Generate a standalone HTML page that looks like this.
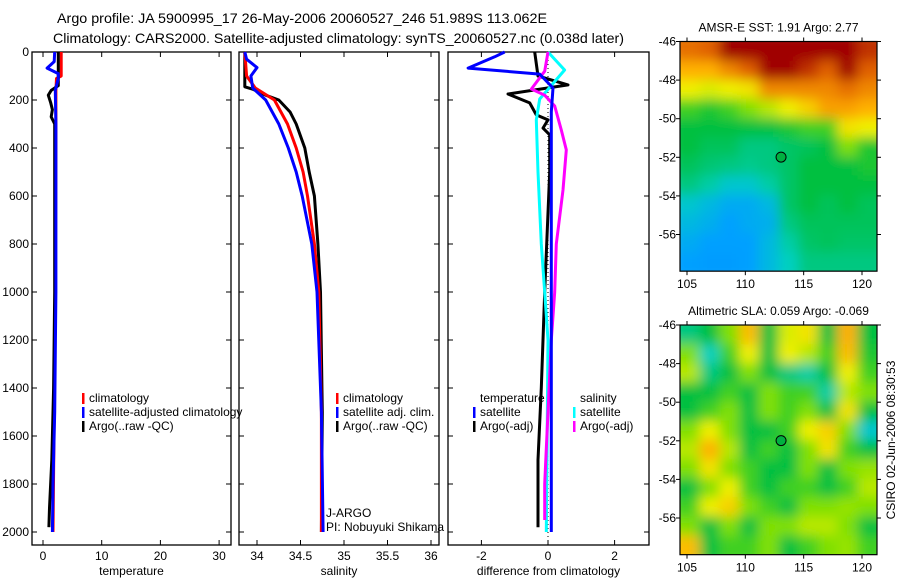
<!DOCTYPE html>
<html><head><meta charset="utf-8"><style>
body{margin:0;background:#fff;}
svg{display:block;font-family:"Liberation Sans",sans-serif;font-size:12px;}
</style></head><body>
<svg id="fig" width="900" height="580" viewBox="0 0 900 580">
<text x="57" y="23" font-size="14" textLength="490" lengthAdjust="spacingAndGlyphs">Argo profile: JA 5900995_17 26-May-2006 20060527_246 51.989S 113.062E</text>
<text x="53" y="43" font-size="14" textLength="571" lengthAdjust="spacingAndGlyphs">Climatology: CARS2000. Satellite-adjusted climatology: synTS_20060527.nc (0.038d later)</text>
</svg>
<script>
// ---------- data ----------
const depthTicks=[0,200,400,600,800,1000,1200,1400,1600,1800,2000];
const tempTicks=[0,10,20,30];
const salTicks=[34,34.5,35,35.5,36];
const salTickLabels=["34","34.5","35","35.5","36"];
const diffTicks=[-2,0,2];
// temperature profiles [depth, value]
const tempClimDepth=[0,100,110,160,400,1000,1500,2000];
const tempClim=[3.1,3.1,2.3,2.2,2.2,2.1,1.9,1.7];
const tempSatDepth=[0,40,67,90,110,160,300,1000,1500,1800,2000];
const tempSat=[2.0,1.9,0.7,2.6,2.6,2.1,2.2,2.2,2.0,1.7,1.6];
const tempArgoDepth=[0,140,160,180,210,240,270,300,1000,1400,1700,1900,1980];
const tempArgo=[2.6,2.6,1.4,0.9,1.3,1.6,1.4,2.0,2.0,1.8,1.5,1.1,1.0];
// salinity profiles
const salClimDepth=[0,100,150,200,300,400,500,600,800,1000,1500,2000];
const salClim=[33.86,33.88,33.98,34.2,34.35,34.45,34.53,34.58,34.66,34.71,34.74,34.74];
const salSatDepth=[0,30,65,100,150,200,300,400,500,600,800,1000,1500,2000];
const salSat=[33.86,33.88,34.0,33.93,33.95,34.1,34.25,34.36,34.45,34.52,34.63,34.69,34.74,34.76];
const salArgoDepth=[0,145,155,180,200,250,300,400,500,600,800,1000,1500,2000];
const salArgo=[33.86,33.86,33.95,34.1,34.25,34.38,34.45,34.55,34.6,34.66,34.7,34.73,34.75,34.74];
// differences from climatology
const dTSatDepth=[0,20,67,92,150,250,1000,2000];
const dTSat=[-1.3,-1.6,-2.4,-0.25,0.15,0.1,0.1,0.1];
const dTArgoDepth=[0,100,137,175,212,262,283,317,345,500,1000,1400,1700,1980];
const dTArgo=[-0.4,-0.3,0.6,-1.2,-0.55,-0.35,0,-0.15,0.05,0.05,-0.1,-0.2,-0.3,-0.3];
const dSSatDepth=[0,75,196,283,500,800,1000,1200,2000];
const dSSat=[0,0.5,-0.25,-0.35,-0.3,-0.2,-0.1,0,-0.05];
const dSArgoDepth=[0,80,154,180,225,325,408,575,800,1000,1200,1500,1800,1950];
const dSArgo=[0,-0.1,-0.5,-0.1,0.2,0.4,0.55,0.45,0.25,0.2,0.1,0,-0.1,-0.1];
// maps (rows lat -46..-58, cols lon 104.8..121.3), value 0..1 colour index
const sstGrid=[
[.88,.9,1,1,1,1,1,1,1,.95],
[.8,.8,.85,.9,1,1,.95,.9,1,.9],
[.7,.68,.7,.72,.85,.85,.85,.85,.88,.85],
[.55,.52,.55,.6,.65,.7,.75,.82,.82,.8],
[.5,.5,.5,.5,.5,.52,.55,.55,.72,.7],
[.5,.48,.48,.45,.45,.47,.48,.5,.6,.52],
[.48,.46,.45,.44,.45,.47,.5,.5,.5,.52],
[.45,.42,.38,.38,.42,.47,.5,.5,.5,.5],
[.38,.35,.32,.32,.35,.47,.5,.48,.5,.48],
[.35,.33,.3,.32,.33,.45,.48,.48,.48,.48],
[.32,.3,.3,.3,.35,.42,.47,.48,.47,.47],
[.3,.28,.28,.3,.35,.4,.45,.45,.45,.45]];
const slaGrid=[
[.45,.5,.6,.78,.5,.68,.72,.5,.8,.5],
[.6,.4,.55,.7,.5,.7,.65,.55,.78,.52],
[.65,.45,.5,.6,.5,.45,.42,.5,.7,.55],
[.5,.5,.55,.5,.6,.55,.55,.42,.65,.6],
[.5,.55,.6,.5,.6,.55,.6,.5,.72,.5],
[.6,.7,.6,.5,.5,.55,.7,.75,.6,.38],
[.65,.8,.65,.5,.55,.5,.6,.72,.55,.5],
[.6,.72,.6,.55,.5,.5,.6,.5,.6,.62],
[.5,.6,.7,.55,.5,.55,.55,.5,.55,.65],
[.55,.7,.75,.6,.55,.5,.6,.6,.62,.6],
[.6,.5,.6,.5,.6,.6,.65,.65,.6,.5],
[.78,.5,.55,.55,.6,.5,.55,.6,.62,.55]];
const latTicks=[-46,-48,-50,-52,-54,-56];
const lonTicks=[105,110,115,120];
const argoLon=113.062, argoLat=-51.989;

// ---------- helpers ----------
const svg=document.getElementById('fig');
const NS='http://www.w3.org/2000/svg';
function mk(tag,attrs,parent){const e=document.createElementNS(NS,tag);for(const k in attrs)e.setAttribute(k,attrs[k]);(parent||svg).appendChild(e);return e;}
const yD=d=>52+d*0.24;
const xT=t=>43+t*5.87;
const xS=s=>257+(s-34)*87;
const xDf=v=>548+v*33.3;

function panel(name,x0,x1,xf,ticks,labels,xlabel,showY){
  const g=mk('g',{});
  
  
  mk('rect',{x:x0,y:52,width:x1-x0,height:493,fill:'none',stroke:'#000','stroke-width':1.3},g);
  ticks.forEach((t,i)=>{const x=xf(t);
    mk('line',{x1:x,x2:x,y1:52,y2:57,stroke:'#000'},g);
    mk('line',{x1:x,x2:x,y1:540,y2:545,stroke:'#000'},g);
    const tx=mk('text',{x:x,y:560,'text-anchor':'middle'},g);tx.textContent=labels[i];
    
    
  });
  depthTicks.forEach(d=>{const y=yD(d);
    mk('line',{x1:x0,x2:x0+5,y1:y,y2:y,stroke:'#000'},g);
    mk('line',{x1:x1-5,x2:x1,y1:y,y2:y,stroke:'#000'},g);
    if(showY){const t=mk('text',{x:x0-3,y:y+4,'text-anchor':'end'},g);t.textContent=d;
      
      }
  });
  const xl=mk('text',{x:(x0+x1)/2,y:575,'text-anchor':'middle'},g);xl.textContent=xlabel;
  
  
  return g;
}
function line(depths,vals,xf,color,name,w){
  const pts=depths.map((d,i)=>xf(vals[i]).toFixed(1)+','+yD(d).toFixed(1)).join(' ');
  const p=mk('polyline',{points:pts,fill:'none',stroke:color,'stroke-width':w||3,'stroke-linejoin':'round'});
  
  
}
function legend(x,y,items,name,clipW){
  const g=mk('g',{});
  
  
  items.forEach((it,i)=>{const yy=y+i*14;
    if(it[0])mk('rect',{x:x,y:yy-9,width:2.5,height:11,fill:it[0]},g);
    const t=mk('text',{x:x+7,y:yy},g);t.textContent=it[1];});
}

// ---------- panels ----------
panel('temperature-panel',32,231,xT,tempTicks,tempTicks.map(String),'temperature',true);
line(tempClimDepth,tempClim,xT,'#f00','temp-climatology-line');
line(tempArgoDepth,tempArgo,xT,'#000','temp-argo-line');
line(tempSatDepth,tempSat,xT,'#00f','temp-satellite-line');
legend(82,402,[['#f00','climatology'],['#00f','satellite-adjusted climatology'],['#000','Argo(..raw -QC)']],'temp-legend');

panel('salinity-panel',239,439,xS,salTicks,salTickLabels,'salinity',false);
line(salArgoDepth,salArgo,xS,'#000','sal-argo-line');
line(salClimDepth,salClim,xS,'#f00','sal-climatology-line');
line(salSatDepth,salSat,xS,'#00f','sal-satellite-line');
legend(336,402,[['#f00','climatology'],['#00f','satellite adj. clim.'],['#000','Argo(..raw -QC)']],'sal-legend');
const pi=mk('text',{x:326,y:517});pi.textContent='J-ARGO';


const pi2=mk('text',{x:326,y:531});pi2.textContent='PI: Nobuyuki Shikama';



panel('difference-panel',448,649,xDf,diffTicks,diffTicks.map(String),'difference from climatology',false);
const z=mk('line',{x1:xDf(0),x2:xDf(0),y1:52,y2:545,stroke:'#000','stroke-dasharray':'1,3'});


line(dTArgoDepth,dTArgo,xDf,'#000','diff-temp-argo-line');
line(dSSatDepth,dSSat,xDf,'#0ff','diff-sal-satellite-line');
line(dSArgoDepth,dSArgo,xDf,'#f0f','diff-sal-argo-line');
line(dTSatDepth,dTSat,xDf,'#00f','diff-temp-satellite-line');
legend(473,402,[[null,'temperature'],['#00f','satellite'],['#000','Argo(-adj)']],'diff-temp-legend');
legend(573,402,[[null,'salinity'],['#0ff','satellite'],['#f0f','Argo(-adj)']],'diff-sal-legend');

// ---------- maps ----------
const stops=[[0,[0,96,255]],[.3,[0,160,255]],[.4,[0,208,192]],[.5,[0,192,64]],[.6,[128,224,0]],[.7,[240,240,0]],[.8,[255,176,0]],[.9,[224,96,0]],[1,[160,0,0]]];
function cmap(v){for(let i=1;i<stops.length;i++){if(v<=stops[i][0]){const a=stops[i-1],b=stops[i],f=(v-a[0])/(b[0]-a[0]);
  return 'rgb('+a[1].map((c,k)=>Math.round(c+(b[1][k]-c)*f)).join(',')+')';}}return 'rgb(160,0,0)';}
function map(name,top,grid,title,blurId){
  const x0=680,x1=877,h=19.3*11.9;
  const lx=lon=>687+(lon-105)*(175/15);
  const ly=lat=>top+(-46-lat)*19.3;
  const g=mk('g',{});
  
  
  const defs=mk('defs',{},g);
  const cp=mk('clipPath',{id:'c'+blurId},defs);mk('rect',{x:x0,y:top,width:x1-x0,height:h},cp);
  const f=mk('filter',{id:blurId,x:'-5%',y:'-5%',width:'110%',height:'110%'},defs);mk('feGaussianBlur',{stdDeviation:6},f);
  const cells=mk('g',{'clip-path':'url(#c'+blurId+')'},g);
  const inner=mk('g',{filter:'url(#'+blurId+')'},cells);
  const cw=(x1-x0)/grid[0].length,ch=h/grid.length;
  grid.forEach((row,r)=>row.forEach((v,c)=>{
    const cell=mk('rect',{x:x0+c*cw-(c==0?10:0),y:top+r*ch-(r==0?10:0),width:cw+1+(c==0||c==row.length-1?10:0),height:ch+1+(r==0||r==grid.length-1?10:0),fill:cmap(v)},inner);
    
    
  }));
  mk('rect',{x:x0,y:top,width:x1-x0,height:h,fill:'none',stroke:'#000','stroke-width':1.2},g);
  latTicks.forEach(l=>{const y=ly(l);mk('line',{x1:x0-4,x2:x0,y1:y,y2:y,stroke:'#000'},g);mk('line',{x1:x1,x2:x1+4,y1:y,y2:y,stroke:'#000'},g);
    const t=mk('text',{x:x0-4,y:y+4,'text-anchor':'end'},g);t.textContent=l;});
  lonTicks.forEach(l=>{const x=lx(l);mk('line',{x1:x,x2:x,y1:top-4,y2:top,stroke:'#000'},g);mk('line',{x1:x,x2:x,y1:top+h,y2:top+h+4,stroke:'#000'},g);
    const t=mk('text',{x:x,y:top+h+17,'text-anchor':'middle'},g);t.textContent=l;});
  const tt=mk('text',{x:(x0+x1)/2,y:top-10,'text-anchor':'middle'},g);tt.textContent=title;
  
  
  const c=mk('circle',{cx:lx(argoLon),cy:ly(argoLat),r:5,fill:'#00b040',stroke:'#000','stroke-width':1},g);
  
  
}
map('sst-map',41.5,sstGrid,'AMSR-E SST: 1.91  Argo: 2.77','b1');
map('sla-map',325,slaGrid,'Altimetric SLA: 0.059  Argo: -0.069','b2');
const ts=mk('text',{x:0,y:0,'text-anchor':'middle',transform:'translate(895,440) rotate(-90)'});
ts.textContent='CSIRO 02-Jun-2006 08:30:53';


</script>
</body></html>
